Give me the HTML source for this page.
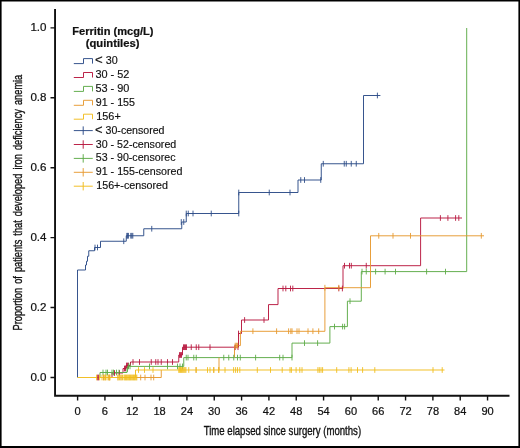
<!DOCTYPE html>
<html lang="en"><head><meta charset="utf-8"><title>Ferritin quintiles</title>
<style>html,body{margin:0;padding:0;background:#fff}body{width:520px;height:448px;overflow:hidden}svg{display:block}</style></head>
<body>
<svg width="520" height="448" viewBox="0 0 520 448">
<rect x="0" y="0" width="520" height="448" fill="#fff"/>
<path d="M0,0H520V448H0ZM1.6,1.6V445.9H518.4V1.6Z" fill="#000" fill-rule="evenodd"/>
<path d="M77.5,377.5V270H85.5V265H86.5V261.25H87.5V256.25H88.75V250.75H94.5V247.5H100.5V241.25H126.25V235.75H143.75V228.75H181.75V222H186.25V213.5H238.75V192.5H298V180H321.25V163.75H363.5V95.5H380.4" stroke="#2c4c88" stroke-width="0.95" fill="none" stroke-linejoin="miter"/>
<path d="M112,377.5V373H123V368.5H126V365.5H130.5V362H178.75V355H182.5V347.2H238.5V333.5H241.5V320H268.5V304.6H278V288.5H343V265.7H420.6V218H462" stroke="#b8183f" stroke-width="0.95" fill="none" stroke-linejoin="miter"/>
<path d="M100,377.5V372.5H127V366.4H183.75V357.6H292V343.1H329.9V326.6H347.4V301.2H361.3V271.6H466.7V28" stroke="#5dab47" stroke-width="0.95" fill="none" stroke-linejoin="miter"/>
<path d="M135.5,377.5H161.25V370M219,370V357.6M234.5,357.6V345.6H240.4V331.3H324.9V287.7H370.5V235.8H484" stroke="#e79a30" stroke-width="0.95" fill="none" stroke-linejoin="miter"/>
<path d="M77.5,377.5H135.5V370H444.5" stroke="#f1bd1c" stroke-width="0.95" fill="none" stroke-linejoin="miter"/>
<path d="M95.00,244.65V250.35M97.50,244.65V250.35M123.75,238.40V244.10M126.80,232.90V238.60M127.60,232.90V238.60M128.40,232.90V238.60M130.80,232.90V238.60M131.80,232.90V238.60M132.80,232.90V238.60M151.75,225.90V231.60M181.25,219.15V224.85M183.75,219.15V224.85M186.25,210.65V216.35M188.25,210.65V216.35M193.00,210.65V216.35M211.25,210.65V216.35M238.75,210.65V216.35M238.75,189.65V195.35M269.25,189.65V195.35M290.00,189.65V195.35M300.75,177.15V182.85M304.50,177.15V182.85M320.75,177.15V182.85M323.25,160.90V166.60M344.25,160.90V166.60M346.25,160.90V166.60M351.25,160.90V166.60M356.25,160.90V166.60M377.40,92.65V98.35" stroke="#2c4c88" stroke-width="0.9" fill="none"/>
<path d="M97.70,374.65V380.35M98.40,374.65V380.35M114.50,370.15V375.85M119.50,370.15V375.85M124.50,365.65V371.35M125.50,365.65V371.35M126.50,362.65V368.35M127.50,362.65V368.35M128.50,362.65V368.35M133.00,359.15V364.85M139.50,359.15V364.85M151.25,359.15V364.85M155.75,359.15V364.85M158.00,359.15V364.85M161.25,359.15V364.85M167.50,359.15V364.85M172.50,359.15V364.85M179.50,352.15V357.85M180.50,352.15V357.85M181.50,352.15V357.85M183.50,344.35V350.05M184.50,344.35V350.05M185.50,344.35V350.05M186.50,344.35V350.05M191.25,344.35V350.05M196.25,344.35V350.05M198.75,344.35V350.05M210.00,344.35V350.05M235.20,344.35V350.05M238.00,344.35V350.05M238.50,330.65V336.35M244.60,317.15V322.85M264.00,317.15V322.85M283.00,285.65V291.35M285.80,285.65V291.35M290.50,285.65V291.35M292.80,285.65V291.35M338.80,285.65V291.35M342.40,285.65V291.35M344.50,262.85V268.55M349.50,262.85V268.55M351.30,262.85V268.55M366.25,262.85V268.55M440.40,215.15V220.85M447.90,215.15V220.85M455.60,215.15V220.85M458.80,215.15V220.85" stroke="#b8183f" stroke-width="0.9" fill="none"/>
<path d="M103.00,369.65V375.35M106.00,369.65V375.35M107.50,369.65V375.35M112.00,369.65V375.35M113.50,369.65V375.35M116.50,369.65V375.35M119.00,369.65V375.35M127.50,366.15V371.85M128.50,363.55V369.25M130.00,363.55V369.25M149.50,363.55V369.25M167.50,363.55V369.25M177.50,363.55V369.25M180.00,363.55V369.25M182.50,363.55V369.25M186.25,354.75V360.45M188.00,354.75V360.45M193.75,354.75V360.45M196.25,354.75V360.45M223.75,354.75V360.45M228.75,354.75V360.45M233.75,354.75V360.45M237.50,354.75V360.45M240.30,354.75V360.45M255.60,354.75V360.45M279.70,354.75V360.45M283.00,354.75V360.45M292.00,354.75V360.45M304.50,340.25V345.95M317.60,340.25V345.95M334.50,323.75V329.45M342.60,323.75V329.45M344.60,323.75V329.45M350.00,298.35V304.05M362.00,268.75V274.45M366.25,268.75V274.45M375.60,268.75V274.45M385.10,268.75V274.45M395.50,268.75V274.45M426.60,268.75V274.45M445.50,268.75V274.45" stroke="#5dab47" stroke-width="0.9" fill="none"/>
<path d="M103.50,374.65V380.35M105.00,374.65V380.35M108.70,374.65V380.35M109.50,374.65V380.35M118.00,374.65V380.35M121.00,374.65V380.35M140.70,374.65V380.35M145.00,374.65V380.35M151.00,374.65V380.35M153.70,374.65V380.35M196.00,367.15V372.85M213.75,367.15V372.85M218.75,367.15V372.85M235.20,342.75V348.45M236.40,342.75V348.45M237.60,342.75V348.45M252.90,328.35V334.05M276.60,328.35V334.05M288.60,328.35V334.05M290.80,328.35V334.05M292.00,328.35V334.05M297.00,328.35V334.05M299.00,328.35V334.05M308.00,328.35V334.05M312.90,328.35V334.05M318.70,328.35V334.05M324.90,284.85V290.55M338.80,284.85V290.55M378.75,232.95V238.65M393.00,232.95V238.65M410.50,232.95V238.65M481.30,232.95V238.65" stroke="#e79a30" stroke-width="0.9" fill="none"/>
<path d="M96.60,374.65V380.35M99.60,374.65V380.35M102.00,374.65V380.35M104.00,374.65V380.35M105.50,374.65V380.35M107.00,374.65V380.35M109.00,374.65V380.35M110.00,374.65V380.35M118.00,374.65V380.35M119.50,374.65V380.35M121.00,374.65V380.35M122.50,374.65V380.35M124.00,374.65V380.35M124.80,374.65V380.35M125.60,374.65V380.35M126.40,374.65V380.35M127.20,374.65V380.35M128.00,374.65V380.35M128.80,374.65V380.35M129.60,374.65V380.35M130.40,374.65V380.35M131.20,374.65V380.35M132.00,374.65V380.35M132.80,374.65V380.35M133.60,374.65V380.35M134.40,374.65V380.35M135.20,374.65V380.35M136.00,374.65V380.35M136.80,374.65V380.35M138.50,367.15V372.85M144.50,367.15V372.85M153.00,367.15V372.85M178.75,367.15V372.85M179.65,367.15V372.85M180.55,367.15V372.85M181.45,367.15V372.85M182.35,367.15V372.85M183.25,367.15V372.85M184.15,367.15V372.85M185.05,367.15V372.85M185.95,367.15V372.85M188.75,367.15V372.85M196.25,367.15V372.85M207.50,367.15V372.85M210.00,367.15V372.85M213.75,367.15V372.85M218.75,367.15V372.85M225.00,367.15V372.85M233.60,367.15V372.85M235.60,367.15V372.85M237.50,367.15V372.85M239.80,367.15V372.85M257.30,367.15V372.85M270.50,367.15V372.85M282.20,367.15V372.85M290.00,367.15V372.85M291.40,367.15V372.85M296.10,367.15V372.85M299.80,367.15V372.85M302.00,367.15V372.85M317.90,367.15V372.85M319.30,367.15V372.85M321.00,367.15V372.85M322.60,367.15V372.85M336.70,367.15V372.85M348.90,367.15V372.85M351.10,367.15V372.85M357.50,367.15V372.85M362.60,367.15V372.85M374.80,367.15V372.85M433.00,367.15V372.85M442.20,367.15V372.85" stroke="#f1bd1c" stroke-width="0.9" fill="none"/>
<path d="M55.05,9V395.7H509.5" stroke="#111" stroke-width="1.9" fill="none" stroke-linejoin="miter"/>
<path d="M77.60,395.7V400.6M104.93,395.7V400.6M132.26,395.7V400.6M159.59,395.7V400.6M186.92,395.7V400.6M214.25,395.7V400.6M241.58,395.7V400.6M268.91,395.7V400.6M296.24,395.7V400.6M323.57,395.7V400.6M350.90,395.7V400.6M378.23,395.7V400.6M405.56,395.7V400.6M432.89,395.7V400.6M460.22,395.7V400.6M487.55,395.7V400.6M50.5,377.50H55M50.5,307.57H55M50.5,237.64H55M50.5,167.71H55M50.5,97.78H55M50.5,27.85H55" stroke="#111" stroke-width="1.4" fill="none"/>
<g font-family="Liberation Sans, Arial, Helvetica, sans-serif" font-size="10" fill="#111" stroke="#111" stroke-width="0.2">
<text x="77.60" y="414.8" text-anchor="middle" textLength="6.2" lengthAdjust="spacingAndGlyphs">0</text>
<text x="104.93" y="414.8" text-anchor="middle" textLength="6.2" lengthAdjust="spacingAndGlyphs">6</text>
<text x="132.26" y="414.8" text-anchor="middle" textLength="12.3" lengthAdjust="spacingAndGlyphs">12</text>
<text x="159.59" y="414.8" text-anchor="middle" textLength="12.3" lengthAdjust="spacingAndGlyphs">18</text>
<text x="186.92" y="414.8" text-anchor="middle" textLength="12.3" lengthAdjust="spacingAndGlyphs">24</text>
<text x="214.25" y="414.8" text-anchor="middle" textLength="12.3" lengthAdjust="spacingAndGlyphs">30</text>
<text x="241.58" y="414.8" text-anchor="middle" textLength="12.3" lengthAdjust="spacingAndGlyphs">36</text>
<text x="268.91" y="414.8" text-anchor="middle" textLength="12.3" lengthAdjust="spacingAndGlyphs">42</text>
<text x="296.24" y="414.8" text-anchor="middle" textLength="12.3" lengthAdjust="spacingAndGlyphs">48</text>
<text x="323.57" y="414.8" text-anchor="middle" textLength="12.3" lengthAdjust="spacingAndGlyphs">54</text>
<text x="350.90" y="414.8" text-anchor="middle" textLength="12.3" lengthAdjust="spacingAndGlyphs">60</text>
<text x="378.23" y="414.8" text-anchor="middle" textLength="12.3" lengthAdjust="spacingAndGlyphs">66</text>
<text x="405.56" y="414.8" text-anchor="middle" textLength="12.3" lengthAdjust="spacingAndGlyphs">72</text>
<text x="432.89" y="414.8" text-anchor="middle" textLength="12.3" lengthAdjust="spacingAndGlyphs">78</text>
<text x="460.22" y="414.8" text-anchor="middle" textLength="12.3" lengthAdjust="spacingAndGlyphs">84</text>
<text x="487.55" y="414.8" text-anchor="middle" textLength="12.3" lengthAdjust="spacingAndGlyphs">90</text>
<text x="46.5" y="381.10" text-anchor="end" textLength="16.1" lengthAdjust="spacingAndGlyphs">0.0</text>
<text x="46.5" y="311.17" text-anchor="end" textLength="16.1" lengthAdjust="spacingAndGlyphs">0.2</text>
<text x="46.5" y="241.24" text-anchor="end" textLength="16.1" lengthAdjust="spacingAndGlyphs">0.4</text>
<text x="46.5" y="171.31" text-anchor="end" textLength="16.1" lengthAdjust="spacingAndGlyphs">0.6</text>
<text x="46.5" y="101.38" text-anchor="end" textLength="16.1" lengthAdjust="spacingAndGlyphs">0.8</text>
<text x="46.5" y="31.45" text-anchor="end" textLength="16.1" lengthAdjust="spacingAndGlyphs">1.0</text>
</g>
<text font-family="Liberation Sans, Arial, Helvetica, sans-serif" font-size="12.4" fill="#111" stroke="#111" stroke-width="0.35" x="282.4" y="434.6" text-anchor="middle" textLength="157.4" lengthAdjust="spacingAndGlyphs">Time elapsed since surgery (months)</text>
<text font-family="Liberation Sans, Arial, Helvetica, sans-serif" font-size="12.4" fill="#111" stroke="#111" stroke-width="0.35" transform="translate(21.9,202.6) rotate(-90)" x="0" y="0" text-anchor="middle" word-spacing="2" textLength="255.7" lengthAdjust="spacingAndGlyphs">Proportion of patients that developed iron deficiency anemia</text>
<g font-family="Liberation Sans, Arial, Helvetica, sans-serif" font-size="10" font-weight="bold" fill="#111" stroke="#111" stroke-width="0.2">
<text x="112.9" y="34.6" text-anchor="middle" textLength="81.2" lengthAdjust="spacingAndGlyphs">Ferritin (mcg/L)</text>
<text x="112.6" y="47.1" text-anchor="middle" textLength="53.8" lengthAdjust="spacingAndGlyphs">(quintiles)</text>
</g>
<g font-family="Liberation Sans, Arial, Helvetica, sans-serif" font-size="10.1" fill="#111" stroke="#111" stroke-width="0.15">
<text x="95" y="64.10" textLength="22.7" lengthAdjust="spacingAndGlyphs"><tspan font-size="12.4">&lt;</tspan> 30</text>
<text x="95.4" y="78.00" textLength="34" lengthAdjust="spacingAndGlyphs">30 - 52</text>
<text x="95.4" y="91.90" textLength="34" lengthAdjust="spacingAndGlyphs">53 - 90</text>
<text x="95.75" y="105.80" textLength="39.25" lengthAdjust="spacingAndGlyphs">91 - 155</text>
<text x="96.25" y="119.70" textLength="24.5" lengthAdjust="spacingAndGlyphs">156+</text>
<text x="95" y="133.60" textLength="69.5" lengthAdjust="spacingAndGlyphs"><tspan font-size="12.4">&lt;</tspan> 30-censored</text>
<text x="95.75" y="147.50" textLength="80.5" lengthAdjust="spacingAndGlyphs">30 - 52-censored</text>
<text x="95.75" y="161.40" textLength="79.75" lengthAdjust="spacingAndGlyphs">53 - 90-censorec</text>
<text x="95.75" y="175.30" textLength="86.75" lengthAdjust="spacingAndGlyphs">91 - 155-censored</text>
<text x="96.25" y="189.20" textLength="71.75" lengthAdjust="spacingAndGlyphs">156+-censored</text>
</g>
<path d="M73.8,63.60H83.5V58.60H92.5V63.60" stroke="#2c4c88" stroke-width="0.95" fill="none"/>
<path d="M73.8,77.50H83.5V72.50H92.5V77.50" stroke="#b8183f" stroke-width="0.95" fill="none"/>
<path d="M73.8,91.40H83.5V86.40H92.5V91.40" stroke="#5dab47" stroke-width="0.95" fill="none"/>
<path d="M73.8,105.30H83.5V100.30H92.5V105.30" stroke="#e79a30" stroke-width="0.95" fill="none"/>
<path d="M73.8,119.20H83.5V114.20H92.5V119.20" stroke="#f1bd1c" stroke-width="0.95" fill="none"/>
<path d="M73.8,130.60H92.75M83.2,126.40V134.80" stroke="#2c4c88" stroke-width="0.95" fill="none"/>
<path d="M73.8,144.50H92.75M83.2,140.30V148.70" stroke="#b8183f" stroke-width="0.95" fill="none"/>
<path d="M73.8,158.40H92.75M83.2,154.20V162.60" stroke="#5dab47" stroke-width="0.95" fill="none"/>
<path d="M73.8,172.30H92.75M83.2,168.10V176.50" stroke="#e79a30" stroke-width="0.95" fill="none"/>
<path d="M73.8,186.20H92.75M83.2,182.00V190.40" stroke="#f1bd1c" stroke-width="0.95" fill="none"/>
</svg>
</body></html>
